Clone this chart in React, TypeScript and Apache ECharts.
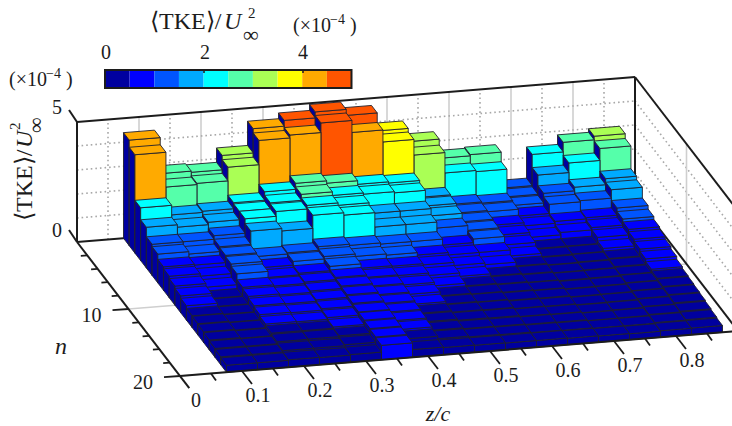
import React, { useEffect, useRef } from "react";
import * as echarts from "echarts";

const colorBins = ["#00009f","#0000ff","#0055ff","#00aaff","#00ffff","#55ffaa","#aaff55","#ffff00","#ffaa00","#ff5500"];
const zTicks = [0,0.1,0.2,0.3,0.4,0.5,0.6,0.7,0.8];
const nTicks = [10,20];
const barColumnsStart = 0.075;
const barColumnWidth = 0.05;
const r00 = [4.4,2.9,2.85,3.45,4.46,4.7,4.95,4.7,3.95,3.4,2.6,2.65,1.15,2.45,2.85,3.0];
const r01 = [4.1,2.65,2.7,3.27,4.28,4.4,4.8,4.3,3.8,3.15,2.3,2.25,1.1,1.9,2.3,2.8];
const r02 = [2.2,1.8,1.85,2.1,2.45,2.7,2.6,2.45,2.4,1.7,1.3,1.25,1.05,1.45,1.6,1.85];
const r03 = [1.7,1.6,1.7,2.05,2.3,2.55,2.4,2.35,2.3,1.65,1.25,1.2,0.92,1.3,1.35,1.7];
const r04 = [1.3,1.3,1.45,2.05,2.25,2.4,2.3,1.85,1.85,1.55,1.2,0.95,0.82,0.9,0.95,1.25];
const r05 = [1.2,1.1,1.3,1.85,1.75,2.3,2.2,1.6,1.6,1.35,1.15,0.85,0.65,0.75,0.85,1.1];
const r06 = [0.98,0.95,1.25,1.1,1.15,1.3,1.25,1.2,1.2,0.95,1.1,0.75,0.49,0.49,0.75,0.98];
const r07 = [0.9,0.8,1.2,0.95,1.1,1.2,1.1,1.05,0.95,0.85,0.85,0.6,0.46,0.47,0.6,0.88];
const r08 = [0.8,0.65,1.1,0.85,0.92,1.1,0.92,0.9,0.85,0.72,0.65,0.49,0.43,0.45,0.49,0.78];
const r09 = [0.7,0.49,0.85,0.8,0.86,0.95,0.85,0.82,0.72,0.58,0.49,0.46,0.41,0.42,0.46,0.68];
const r10 = [0.6,0.47,0.78,0.74,0.8,0.9,0.8,0.74,0.6,0.49,0.46,0.43,0.39,0.4,0.43,0.56];
const r11 = [0.49,0.45,0.7,0.68,0.74,0.85,0.75,0.66,0.49,0.46,0.43,0.41,0.36,0.37,0.41,0.49];
const r12 = [0.47,0.43,0.64,0.62,0.68,0.8,0.7,0.56,0.46,0.44,0.4,0.39,0.34,0.35,0.39,0.46];
const r13 = [0.44,0.41,0.56,0.55,0.62,0.75,0.65,0.49,0.43,0.42,0.37,0.36,0.32,0.33,0.37,0.43];
const r14 = [0.41,0.38,0.49,0.49,0.54,0.72,0.6,0.45,0.4,0.39,0.35,0.34,0.3,0.31,0.35,0.4];
const r15 = [0.37,0.36,0.44,0.45,0.48,0.68,0.54,0.4,0.36,0.35,0.33,0.32,0.28,0.29,0.33,0.36];
const r16 = [0.33,0.33,0.38,0.38,0.42,0.64,0.46,0.36,0.33,0.32,0.3,0.29,0.27,0.27,0.3,0.32];
const r17 = [0.29,0.29,0.31,0.3,0.32,0.6,0.32,0.3,0.29,0.28,0.28,0.27,0.26,0.25,0.27,0.28];
const rows = [r00,r01,r02,r03,r04,r05,r06,r07,r08,r09,r10,r11,r12,r13,r14,r15,r16,r17];

const SERIF = "'Liberation Serif', serif";
const INK = "#1c1c1c";
const colorOf = (v: number) => colorBins[Math.max(0, Math.min(9, Math.floor(v / 0.5)))];

// Orthographic projection built on the hidden cartesian axes: x = z/c, y = value, n shears both.
const project = (api: any, z: number, n: number, v: number) => {
  const p = api.coord([z, v]);
  return [p[0] + (n / 20) * 103, p[1] + (n / 20) * 134 - (z / 0.9) * 45];
};

const barData: number[][] = [];
rows.forEach((row, r) => {
  for (let c = row.length - 1; c >= 0; c--) barData.push([c, r, row[c]]);
});

const renderBar = (_: any, api: any) => {
  const c = api.value(0), r = api.value(1), v = api.value(2);
  const z0 = barColumnsStart + c * barColumnWidth, z1 = z0 + barColumnWidth;
  const step = 20 / rows.length;
  const n0 = r * step, n1 = (r + 1) * step;
  const P = (z: number, n: number, h: number) => project(api, z, n, h);
  const col = colorOf(v);
  const edge = { stroke: "#20202c", lineWidth: 0.9 };
  return {
    type: "group",
    children: [
      { type: "polygon", shape: { points: [P(z0,n0,0),P(z0,n1,0),P(z0,n1,v),P(z0,n0,v)] }, style: { fill: "#00009f", ...edge } },
      { type: "polygon", shape: { points: [P(z0,n1,0),P(z1,n1,0),P(z1,n1,v),P(z0,n1,v)] }, style: { fill: col, ...edge } },
      { type: "polygon", shape: { points: [P(z0,n0,v),P(z1,n0,v),P(z1,n1,v),P(z0,n1,v)] }, style: { fill: col, ...edge } },
    ],
  };
};

const renderBack = (_: any, api: any) => {
  const ch: any[] = [];
  const L = (a: number[], b: number[], stroke: string, lineWidth: number, lineDash?: number[]) =>
    ch.push({ type: "line", shape: { x1: a[0], y1: a[1], x2: b[0], y2: b[1] }, style: { stroke, lineWidth, lineDash, fill: "none" } });
  const P = (z: number, n: number, v: number) => project(api, z, n, v);
  for (let i = 1; i < 18; i++) {
    const z = i * 0.05;
    if (i % 2 === 0) L(P(z,0,0), P(z,0,5), "#cfcfcf", 1.6);
    else L(P(z,0,0), P(z,0,5), "#a8a8a8", 1.6, [1.6, 3]);
  }
  for (let v = 1; v <= 4; v++) {
    L(P(0,0,v), P(0.9,0,v), "#a8a8a8", 1.6, [1.6, 3]);
    L(P(0.9,0,v), P(0.9,20,v), "#a8a8a8", 1.6, [1.6, 3]);
  }
  L(P(0.9,10,0), P(0.9,10,5), "#cfcfcf", 1.6);
  L(P(0,10,0), P(0.9,10,0), "#cfcfcf", 1.6);
  L(P(0,20,0), P(0.9,20,0), "#cfcfcf", 1.6);
  L(P(0,0,5), P(0.9,0,5), INK, 2);
  L(P(0,0,0), P(0,0,5), INK, 2);
  L(P(0.9,0,0), P(0.9,0,5), INK, 2);
  L(P(0,0,0), P(0.9,0,0), INK, 2);
  L(P(0.9,0,5), P(0.9,20,5), INK, 2);
  L(P(0.9,0,0), P(0.9,20,0), INK, 2);
  return { type: "group", children: ch };
};

const renderFront = (_: any, api: any) => {
  const ch: any[] = [];
  const L = (a: number[], b: number[], lineWidth: number) =>
    ch.push({ type: "line", shape: { x1: a[0], y1: a[1], x2: b[0], y2: b[1] }, style: { stroke: INK, lineWidth, fill: "none" } });
  const T = (text: string, p: number[], dx: number, dy: number) =>
    ch.push({ type: "text", style: { text, x: p[0] + dx, y: p[1] + dy, font: `20px ${SERIF}`, fill: INK, align: "center", verticalAlign: "middle" } });
  const P = (z: number, n: number, v: number) => project(api, z, n, v);
  L(P(0,20,0), P(0.9,20,0), 2);
  L(P(0,0,0), P(0,21.8,0), 2);
  for (let i = 1; i < 18; i++) {
    const z = i * 0.05, a = P(z,20,0), major = i % 2 === 0;
    L(a, [a[0] + (major ? 10 : 5), a[1] + (major ? 13 : 7)], 1.8);
  }
  for (let n = 2; n <= 20; n += 2) {
    const a = P(0,n,0), major = n % 10 === 0;
    L(a, [a[0] - (major ? 16 : 6.5), a[1] + (major ? 1.2 : 0.5)], 1.8);
  }
  zTicks.forEach((z) => T(z === 0 ? "0" : z.toFixed(1), P(z,20,0), 16, 24));
  nTicks.forEach((n) => T(String(n), P(0,n,0), -37, 6));
  L(P(0,0,5), [P(0,0,5)[0] - 8, P(0,0,5)[1] - 12], 2);
  L(P(0,0,0), [P(0,0,0)[0] - 8, P(0,0,0)[1] - 12], 2);
  T("5", P(0,0,5), -20, -15);
  T("0", P(0,0,0), -20, -12);
  return { type: "group", children: ch };
};

const txt = (text: string, x: number, y: number, size: number, extra: any = {}) => ({
  type: "text", x, y, silent: true,
  style: { text, font: `${extra.italic ? "italic " : ""}${size}px ${SERIF}`, fill: INK, verticalAlign: "middle", align: extra.align || "left" },
});

const graphics: any[] = [
  ...colorBins.map((c, i) => ({ type: "rect", silent: true, shape: { x: 105 + i * 24.65, y: 70, width: 24.65, height: 18 }, style: { fill: c } })),
  { type: "rect", silent: true, shape: { x: 105, y: 70, width: 246.5, height: 18 }, style: { fill: "none", stroke: INK, lineWidth: 2 } },
  { type: "line", silent: true, shape: { x1: 204, y1: 70, x2: 204, y2: 73 }, style: { stroke: INK, lineWidth: 1.5 } },
  { type: "line", silent: true, shape: { x1: 303, y1: 70, x2: 303, y2: 73 }, style: { stroke: INK, lineWidth: 1.5 } },
  txt("0", 106, 52, 20, { align: "center" }),
  txt("2", 205, 52, 20, { align: "center" }),
  txt("4", 303, 52, 20, { align: "center" }),
  txt("⟨TKE⟩/", 150, 21, 24),
  txt("U", 224, 21, 24, { italic: true }),
  txt("2", 248, 13, 15),
  txt("∞", 243, 34, 22),
  txt("(×10", 293, 25, 20),
  txt("−4", 330, 19, 14),
  txt(")", 350, 25, 20),
  txt("(×10", 9, 79, 20),
  txt("−4", 46, 73, 14),
  txt(")", 66, 79, 20),
  { type: "group", x: 24, y: 221, rotation: Math.PI / 2, children: [
    txt("⟨TKE⟩/", 0, 0, 24),
    txt("U", 73, 0, 24, { italic: true }),
    txt("2", 91, -9, 15),
    txt("∞", 88, 11, 22),
  ] },
  txt("n", 61, 346, 24, { italic: true, align: "center" }),
  txt("z/c", 438, 413, 22, { italic: true, align: "center" }),
];

export default function App() {
  const ref = useRef<HTMLDivElement>(null);
  useEffect(() => {
    const chart = echarts.init(ref.current!, undefined, { renderer: "svg" });
    chart.setOption({
      animation: false,
      grid: { left: 77, top: 122, width: 558, height: 120, containLabel: false },
      xAxis: { type: "value", min: 0, max: 0.9, show: false },
      yAxis: { type: "value", min: 0, max: 5, show: false },
      graphic: graphics,
      series: [
        { type: "custom", renderItem: renderBack, data: [[0, 0]], clip: false, silent: true, z: 1 },
        { type: "custom", renderItem: renderBar, data: barData, encode: { x: 0, y: 2 }, clip: false, silent: true, z: 2 },
        { type: "custom", renderItem: renderFront, data: [[0, 0]], clip: false, silent: true, z: 3 },
      ],
    });
    return () => chart.dispose();
  }, []);
  return <div ref={ref} style={{ position: "absolute", left: 0, top: 0, width: 732, height: 426 }} />;
}
